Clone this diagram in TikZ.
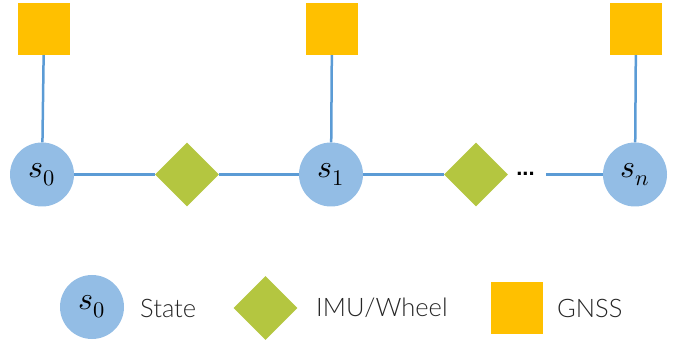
\documentclass[tikz,border=0pt]{standalone}
\usepackage{fontspec}
\usepackage{unicode-math}
\setmainfont{Lato Light}
\setmathfont{Latin Modern Math}
\newfontfamily\dotsfont{Liberation Sans}
\usetikzlibrary{shapes.geometric}
\definecolor{statefill}{HTML}{93BDE5}
\definecolor{edgeblue}{HTML}{5B9BD5}
\definecolor{imufill}{HTML}{B4C640}
\definecolor{gnssfill}{HTML}{FFC000}
\tikzset{
  statenode/.style={circle, fill=statefill, minimum size=64pt, inner sep=0pt,
    font=\fontsize{32}{32}\selectfont},
  imunode/.style={diamond, fill=imufill, minimum width=64pt, minimum height=64pt, inner sep=0pt},
  gnssnode/.style={rectangle, fill=gnssfill, minimum size=52pt, inner sep=0pt},
  factoredge/.style={draw=edgeblue, line width=2.5pt},
  legendtext/.style={anchor=west, inner sep=0pt, text=black!85,
    font=\fontsize{25.5}{25.5}\selectfont}
}
\begin{document}
\begin{tikzpicture}[x=1pt, y=1pt]
  \useasboundingbox (0,0) rectangle (683,343);
  % GNSS factors
  \node[gnssnode] (g0) at (44,314) {};
  \node[gnssnode] (g1) at (332,314) {};
  \node[gnssnode] (gn) at (636,314) {};
  % states
  \node[statenode] (s0) at (42,168.5) {$s_0$};
  \node[statenode] (s1) at (331,168.5) {$s_1$};
  \node[statenode] (sn) at (635,168.5) {$s_n$};
  % IMU/wheel factors
  \node[imunode] (d1) at (187,168.5) {};
  \node[imunode] (d2) at (476,168.5) {};
  \node[minimum width=41pt, inner sep=0pt, font=\dotsfont\bfseries\fontsize{22}{22}\selectfont] (dots) at (525.5,169.5) {...};
  % edges
  \draw[factoredge] (g0) -- (s0);
  \draw[factoredge] (g1) -- (s1);
  \draw[factoredge] (gn) -- (sn);
  \draw[factoredge] (s0) -- (d1);
  \draw[factoredge] (d1) -- (s1);
  \draw[factoredge] (s1) -- (d2);
  \draw[factoredge] (dots.east |- sn) -- (sn);
  % legend
  \node[statenode] (ls) at (92,36) {$s_0$};
  \node[legendtext] (lst) at (140,35) {State};
  \node[imunode] (li) at (265.5,35) {};
  \node[legendtext] (lit) at (316,35) {IMU/Wheel};
  \node[gnssnode] (lg) at (517,35) {};
  \node[legendtext] (lgt) at (557,35) {GNSS};
\end{tikzpicture}
\end{document}
